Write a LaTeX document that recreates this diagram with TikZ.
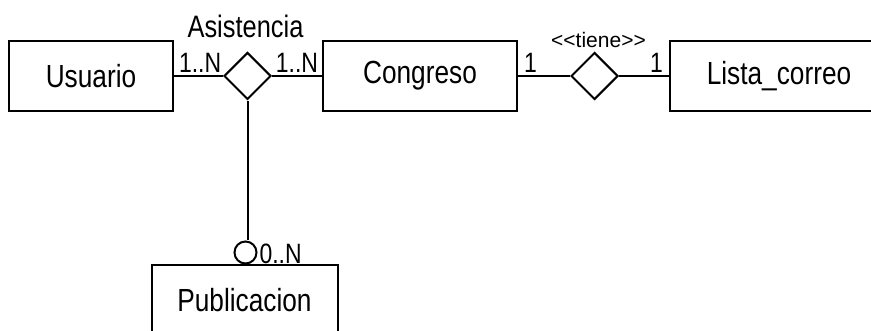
\documentclass[tikz,border=0pt]{standalone}
\usepackage{fontspec}
\setmainfont{Liberation Sans}[FakeStretch=0.82]
\newfontfamily\stereofont{Liberation Sans}
\usepackage{tikz}
\usetikzlibrary{positioning, shapes.geometric}

\begin{document}
\begin{tikzpicture}[
            x=1pt, y=1pt,
            line width=2pt,
            entity/.style={rectangle, draw, minimum height=70pt, inner sep=0pt, font=\fontsize{32}{38}\selectfont},
            relation/.style={diamond, draw, minimum width=47pt, minimum height=47pt, inner sep=0pt, aspect=1},
            card/.style={inner sep=0pt, font=\fontsize{28}{32}\selectfont},
            optional/.style={circle, draw, minimum size=22pt, inner sep=0pt}
        ]
        \useasboundingbox (0,0) rectangle (871,-331);
        \clip (0,0) rectangle (871,-331);

        \node[entity, minimum width=164pt] (usuario) at (91,-76) {Usuario};
        \node[relation, right=49pt of usuario] (asistencia) {};
        \node[entity, minimum width=194pt, right=50pt of asistencia] (congreso) {Congreso};
        \node[relation, right=52pt of congreso] (tiene) {};
        \node[entity, minimum width=218pt, right=50pt of tiene] (lista) {Lista\_correo};
        \node[entity, minimum width=186pt, below=164pt of asistencia, xshift=-3pt] (publicacion) {Publicacion};
        \node[optional, above=0pt of publicacion, xshift=1pt] (ring) {};

        \node[card, anchor=base, font=\fontsize{31}{36}\selectfont] at ([shift={(-2pt,14pt)}]asistencia.north) {Asistencia};
        \node[inner sep=0pt, anchor=base, font=\stereofont\fontsize{21}{25}\selectfont] at ([shift={(4pt,4pt)}]tiene.north) {<{}<tiene>{}>};

        \node[card, anchor=base west] at ([shift={(4pt,3pt)}]usuario.east) {1..N};
        \node[card, anchor=base east] at ([shift={(-3pt,3pt)}]congreso.west) {1..N};
        \node[card, anchor=base west] at ([shift={(5pt,3pt)}]congreso.east) {1};
        \node[card, anchor=base east] at ([shift={(-5pt,3pt)}]lista.west) {1};
        \node[card, anchor=base west] at ([shift={(1pt,-11pt)}]ring.east) {0..N};

        \draw (usuario) -- (asistencia);
        \draw (asistencia) -- (congreso);
        \draw (congreso) -- (tiene);
        \draw (tiene) -- (lista);
        \draw (asistencia) -- (asistencia |- ring.north);
    \end{tikzpicture}
\end{document}
